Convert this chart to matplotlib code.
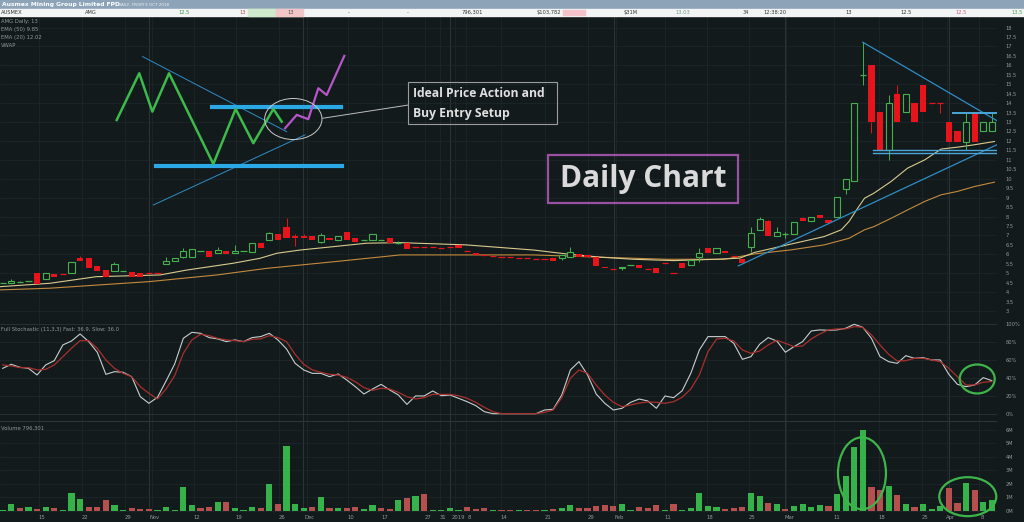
import numpy as np
import matplotlib
matplotlib.use('Agg')
import matplotlib.pyplot as plt
from matplotlib.patches import Rectangle, Ellipse

# ---------------- data ----------------
opens = [4.50, 4.47, 4.55, 4.58, 5.00, 4.68, 4.97, 4.95, 5.00, 5.79,
         5.79, 5.39, 5.18, 5.14, 5.14, 5.09, 5.00, 5.05, 5.05, 5.49,
         5.65, 5.88, 5.85, 6.18, 6.20, 6.06, 6.20, 6.06, 6.18, 6.15,
         6.59, 6.76, 7.06, 7.47, 6.97, 6.99, 6.97, 6.63, 6.88, 6.76,
         7.17, 6.85, 6.76, 6.76, 6.76, 6.85, 6.62, 6.62, 6.41, 6.41,
         6.41, 6.36, 6.41, 6.50, 6.20, 6.06, 5.97, 5.93, 5.88, 5.85,
         5.81, 5.80, 5.79, 5.78, 5.79, 5.79, 5.88, 6.02, 5.97, 5.85,
         5.35, 5.26, 5.26, 5.46, 5.46, 5.23, 5.26, 5.55, 5.03, 5.52,
         5.46, 5.88, 6.35, 6.06, 6.20, 5.90, 5.74, 6.41, 7.30, 7.79,
         6.98, 7.08, 7.08, 7.91, 7.79, 8.09, 7.82, 7.97, 9.45, 9.86,
         15.49, 16.03, 13.51, 11.50, 14.50, 13.51, 14.00, 14.98, 14.00, 14.00,
         12.98, 12.50, 11.97, 13.51, 12.50, 12.50]
highs = [4.50, 4.68, 4.60, 4.58, 5.00, 5.00, 4.97, 4.95, 5.62, 5.91,
         5.79, 5.39, 5.18, 5.61, 5.14, 5.09, 5.00, 5.05, 5.05, 5.85,
         5.79, 6.32, 6.27, 6.18, 6.20, 6.38, 6.20, 6.50, 6.18, 6.59,
         6.59, 7.20, 7.06, 7.91, 7.10, 7.10, 6.97, 7.12, 6.88, 6.97,
         7.17, 6.85, 6.76, 7.08, 6.76, 6.85, 6.70, 6.62, 6.41, 6.41,
         6.41, 6.36, 6.41, 6.50, 6.20, 6.06, 5.97, 5.93, 5.88, 5.85,
         5.81, 5.80, 5.79, 5.78, 5.79, 5.97, 6.41, 6.02, 5.97, 5.85,
         5.35, 5.26, 5.35, 5.46, 5.46, 5.23, 5.26, 5.55, 5.03, 5.52,
         5.72, 6.35, 6.35, 6.35, 6.20, 5.90, 5.74, 7.47, 8.00, 7.82,
         7.47, 7.20, 7.70, 8.00, 7.97, 8.09, 7.82, 9.06, 9.98, 14.00,
         17.24, 16.03, 13.51, 14.45, 14.98, 14.50, 14.00, 14.98, 14.00, 14.00,
         12.98, 12.50, 13.51, 13.51, 12.98, 13.51]
lows = [4.50, 4.47, 4.55, 4.58, 4.43, 4.68, 4.79, 4.94, 5.00, 5.67,
        5.26, 5.14, 4.79, 5.14, 5.14, 4.79, 4.79, 5.04, 5.04, 5.49,
        5.65, 5.79, 5.85, 6.18, 5.85, 6.06, 6.02, 6.06, 6.18, 6.15,
        6.36, 6.76, 6.76, 6.85, 6.44, 6.85, 6.76, 6.58, 6.76, 6.76,
        6.76, 6.67, 6.76, 6.76, 6.76, 6.62, 6.55, 6.27, 6.40, 6.40,
        6.40, 6.35, 6.40, 6.35, 6.19, 5.97, 5.96, 5.92, 5.87, 5.84,
        5.80, 5.79, 5.78, 5.77, 5.63, 5.70, 5.88, 5.88, 5.85, 5.41,
        5.26, 5.25, 5.17, 5.46, 5.26, 5.22, 5.00, 5.54, 5.02, 5.26,
        5.46, 5.60, 6.06, 6.06, 6.06, 5.89, 5.56, 6.15, 7.30, 6.95,
        6.98, 6.85, 7.08, 7.79, 7.79, 7.91, 7.68, 7.97, 9.20, 9.86,
        14.98, 12.40, 11.50, 11.00, 12.98, 13.51, 12.98, 13.51, 13.99, 13.50,
        11.97, 11.97, 11.50, 11.97, 12.50, 12.50]
closes = [4.50, 4.61, 4.55, 4.58, 4.43, 5.00, 4.79, 4.94, 5.62, 5.67,
          5.26, 5.14, 4.79, 5.49, 5.14, 4.79, 4.79, 5.04, 5.04, 5.67,
          5.79, 6.18, 6.27, 6.18, 5.85, 6.22, 6.02, 6.20, 6.18, 6.59,
          6.36, 7.12, 6.76, 6.85, 6.85, 6.85, 6.76, 7.03, 6.76, 6.97,
          6.76, 6.67, 6.76, 7.08, 6.76, 6.62, 6.62, 6.27, 6.40, 6.40,
          6.40, 6.35, 6.40, 6.35, 6.19, 5.97, 5.96, 5.92, 5.87, 5.84,
          5.80, 5.79, 5.78, 5.77, 5.63, 5.97, 6.15, 5.88, 5.85, 5.41,
          5.26, 5.25, 5.35, 5.46, 5.26, 5.22, 5.00, 5.54, 5.02, 5.26,
          5.72, 6.06, 6.06, 6.35, 6.06, 5.89, 5.56, 7.15, 7.86, 6.98,
          7.17, 7.08, 7.70, 7.79, 7.97, 7.91, 7.68, 9.06, 9.98, 14.00,
          15.50, 12.98, 11.50, 14.00, 12.98, 14.50, 12.98, 13.51, 13.99, 13.99,
          11.97, 11.97, 12.98, 11.97, 12.98, 12.98]

volume_m = [0.04, 0.50, 0.20, 0.24, 0.12, 0.30, 0.20, 0.08, 1.29, 0.85,
            0.27, 0.24, 0.82, 0.40, 0.03, 0.20, 0.12, 0.10, 0.03, 0.30,
            0.05, 1.76, 0.40, 0.20, 0.24, 0.67, 0.63, 0.22, 0.03, 0.30,
            0.22, 1.99, 0.47, 4.83, 0.47, 0.20, 0.27, 1.04, 0.20, 0.20,
            0.22, 0.27, 0.10, 0.42, 0.20, 0.10, 0.79, 0.94, 1.11, 1.22,
            0.03, 0.03, 0.20, 0.03, 0.30, 0.12, 0.20, 0.04, 0.06, 0.06,
            0.03, 0.05, 0.05, 0.03, 0.13, 0.20, 0.42, 0.20, 0.20, 0.33,
            0.40, 0.31, 0.47, 0.03, 0.26, 0.22, 0.42, 0.03, 0.48, 0.03,
            0.20, 1.32, 0.35, 0.25, 0.12, 0.17, 0.25, 1.34, 1.09, 0.55,
            0.47, 0.12, 0.37, 0.50, 0.30, 0.42, 0.37, 1.24, 2.58, 4.76,
            6.00, 1.74, 1.54, 1.84, 1.17, 0.50, 0.25, 0.50, 0.10, 0.35,
            1.72, 0.55, 2.04, 1.54, 0.62, 0.80]
volume_dir = ("ggrgrgrggg" "rrrggrrrgg" "gggrrgrggg" "rgrgggrgrg" "rrggrrgrgr"
              "ggggrrrgrr" "grrgrggrrr" "rrggrrrgrg" "ggggrrrggr" "grggggrggg"
              "grrgrgrggg" "rrgrgg")

stoch_fast = [50.7, 55.2, 51.9, 50.7, 43.3, 54.5, 59.3, 76.9, 81.3, 89.2,
              80.6, 68.7, 44.0, 47.0, 46.3, 41.4, 19.0, 11.6, 18.3, 36.6,
              55.6, 84.3, 91.0, 89.9, 85.1, 83.6, 80.6, 82.5, 80.6, 85.1,
              86.2, 89.9, 82.5, 72.4, 56.3, 48.9, 45.1, 45.1, 41.4, 44.4,
              37.7, 30.2, 22.0, 27.6, 32.8, 26.5, 20.9, 10.4, 19.8, 19.8,
              25.4, 20.1, 20.9, 17.2, 13.4, 9.0, 2.2, 0, 0, 0,
              0, 0, 0, 4.1, 4.9, 20.9, 48.9, 58.2, 43.3, 22.0,
              11.6, 4.1, 6.0, 12.7, 16.4, 14.2, 6.0, 19.8, 17.9, 25.7,
              45.1, 71.3, 86.2, 86.2, 86.2, 78.7, 60.8, 63.8, 77.6, 85.1,
              81.3, 68.7, 75.0, 80.6, 92.5, 93.7, 93.3, 93.7, 95.5, 100,
              96.6, 84.3, 63.8, 58.2, 56.3, 64.9, 61.9, 62.7, 60.1, 60.1,
              44.0, 32.8, 30.2, 32.1, 40.3, 36.9]
stoch_slow = [54.5, 53.4, 51.5, 51.5, 48.9, 49.6, 54.5, 63.8, 73.1, 81.7,
              81.7, 73.1, 60.1, 50.7, 45.1, 41.4, 30.2, 22.8, 16.4, 27.6,
              42.5, 67.5, 82.5, 88.8, 87.3, 84.3, 82.5, 81.7, 80.6, 83.2,
              83.6, 87.3, 85.1, 80.6, 66.4, 55.2, 48.9, 46.3, 44.0, 43.3,
              40.7, 35.8, 29.1, 26.1, 28.4, 27.6, 23.9, 19.0, 16.4, 17.9,
              21.6, 21.6, 21.6, 20.1, 17.2, 12.7, 7.1, 2.2, 0, 0,
              0, 0, 0, 1.5, 4.1, 17.9, 39.6, 48.9, 45.1, 32.1,
              20.9, 12.7, 7.8, 9.7, 11.9, 13.1, 12.7, 11.6, 13.4, 18.3,
              27.6, 43.3, 69.4, 83.6, 84.3, 81.3, 71.3, 67.5, 70.1, 76.9,
              82.1, 78.7, 75.0, 75.7, 83.6, 89.2, 93.7, 94.8, 94.8, 97.4,
              96.6, 88.1, 76.9, 66.4, 59.0, 59.3, 61.9, 61.9, 60.1, 58.2,
              50.7, 41.4, 32.1, 32.1, 35.1, 36.0]

ema20_x = [-0.3, 5.5, 10.9, 18.3, 21.4, 26.8, 29.9, 31.9, 34.6, 38.5, 42.3, 46.2,
           53.9, 61.7, 65.6, 69.5, 73.3, 78.0, 83.0, 85.7, 87.4, 91.7, 95.5, 97.5,
           98.4, 99.4, 100.2, 101.3, 103.3, 105.2, 107.2, 109.1, 111.0, 113.0, 115.3]
ema20_y = [4.29, 4.47, 4.82, 4.91, 5.17, 5.53, 5.79, 6.06, 6.23, 6.41, 6.59, 6.62,
           6.50, 6.23, 6.02, 5.85, 5.74, 5.67, 5.74, 5.80, 6.10, 6.55, 6.94, 7.30,
           7.74, 8.44, 8.97, 9.24, 9.86, 10.56, 11.00, 11.57, 11.67, 11.80, 11.97]
ema50_x = [-0.3, 5.5, 17.1, 19.1, 24.9, 30.7, 38.5, 44.3, 46.2, 61.7, 69.5, 77.2,
           83.9, 87.4, 91.7, 95.5, 98.4, 100.2, 101.3, 103.3, 105.2, 107.2, 109.1,
           111.0, 113.0, 115.3]
ema50_y = [4.12, 4.21, 4.56, 4.65, 4.91, 5.26, 5.61, 5.88, 5.97, 5.97, 5.85, 5.74,
           5.74, 6.02, 6.24, 6.50, 6.85, 7.30, 7.47, 7.91, 8.35, 8.80, 9.15,
           9.33, 9.59, 9.82]

tick_labels = ['15', '22', '29', 'Nov', '12', '19', '26', 'Dec', '10', '17', '27', '31',
               '2019', '8', '14', '21', '29', 'Feb', '11', '18', '25', 'Mar', '11', '18',
               '25', 'Apr', '8']
tick_pos = [4.57, 9.57, 14.57, 17.71, 22.59, 27.48, 32.48, 35.73, 40.5, 44.45, 49.45, 51.2,
            52.94, 54.22, 58.29, 63.41, 68.41, 71.66, 77.36, 82.24, 87.13, 91.43, 97.01,
            102.24, 107.24, 110.15, 113.87]
month_lines = [17.01, 34.92, 52.01, 71.08, 90.97, 110.03]

# hand drawn "ideal setup" sketch (bar index, price)
sketch_x = [13.26, 15.88, 17.40, 19.34, 24.49, 27.09, 29.14, 31.47, 32.44]
sketch_y = [13.11, 15.58, 13.55, 15.58, 10.78, 13.69, 11.88, 13.69, 13.02]
breakout_x = [32.83, 34.19, 35.53, 36.70, 37.67, 39.72]
breakout_y = [12.67, 13.38, 13.15, 14.79, 14.43, 16.50]

BG = '#131a1c'
GRID = '#1e282a'
MONTH = '#2b3638'
TXT = '#8e989a'
GREEN = '#46b04e'
RED = '#e8141c'
VGREEN = '#35b24a'
VRED = '#b5504e'
TLINE = '#2f8dc6'

W, H = 1024.0, 522.0
def fx(px):
    return px / W
def fy(py):
    return 1 - py / H

fig = plt.figure(figsize=(10.24, 5.22), dpi=100, facecolor=BG)
R = 997
ax_p = fig.add_axes([0, fy(319), R / W, (319 - 16) / H])
ax_s = fig.add_axes([0, fy(421), R / W, (421 - 319) / H], sharex=ax_p)
ax_v = fig.add_axes([0, fy(512), R / W, (512 - 421) / H], sharex=ax_p)

for ax in (ax_p, ax_s, ax_v):
    ax.set_facecolor(BG)
    for s in ax.spines.values():
        s.set_visible(False)
    ax.yaxis.tick_right()
    ax.tick_params(left=False, bottom=False, labelbottom=False, right=False,
                   labelright=True, labelsize=3.7, labelcolor=TXT, pad=2.5)
    for m in month_lines:
        ax.axvline(m, color=MONTH, lw=0.7, zorder=0)
    for t in tick_pos:
        ax.axvline(t - 0.35, color=GRID, lw=0.5, zorder=0)

ax_p.set_xlim(-0.31, 115.6)
ax_p.set_ylim(2.58, 18.61)
ax_s.set_ylim(-8.2, 105.9)
ax_v.set_ylim(-0.1, 6.67)

ax_p.set_yticks(np.arange(3, 18.01, 0.5))
ax_p.set_yticklabels(['%g' % v for v in np.arange(3, 18.01, 0.5)])
for v in range(3, 19):
    ax_p.axhline(v, color=GRID, lw=0.5, zorder=0)
ax_s.set_yticks(range(0, 101, 20))
ax_s.set_yticklabels(['%d%%' % v for v in range(0, 101, 20)])
for v in range(0, 101, 20):
    ax_s.axhline(v, color=MONTH if v in (0, 100) else GRID, lw=0.6, zorder=0)
ax_v.set_yticks(range(0, 7))
ax_v.set_yticklabels(['%dM' % v for v in range(0, 7)])
for v in range(0, 7):
    ax_v.axhline(v, color=GRID, lw=0.5, zorder=0)
ax_p.axhline(2.58, color=MONTH, lw=0.8)
ax_v.axhline(6.67, color=MONTH, lw=0.8)

# ---- candles ----
o, h, l, c = (np.array(a) for a in (opens, highs, lows, closes))
x = np.arange(len(c))
up = c >= o
top = np.maximum(o, c)
bot = np.minimum(o, c)
ccol = np.where(up, GREEN, RED)
ax_p.vlines(x, top, h, colors=ccol, lw=0.7, zorder=3)
ax_p.vlines(x, l, bot, colors=ccol, lw=0.7, zorder=3)
flat = (top - bot) < 0.03
m = ~flat & up
ax_p.bar(x[m], (top - bot)[m], bottom=bot[m], width=0.72, facecolor=BG,
         edgecolor=GREEN, lw=0.8, zorder=4)
m = ~flat & ~up
ax_p.bar(x[m], (top - bot)[m], bottom=bot[m], width=0.72, color=RED, lw=0, zorder=4)
ax_p.hlines(c[flat], x[flat] - 0.36, x[flat] + 0.36, colors=ccol[flat], lw=0.9, zorder=4)

ax_p.plot(ema50_x, ema50_y, color='#c48a3e', lw=0.8, zorder=2)
ax_p.plot(ema20_x, ema20_y, color='#d8ca8e', lw=0.8, zorder=2)

# ---- trend lines on the live chart ----
ax_p.plot([100.0, 115.97], [17.22, 12.97], color=TLINE, lw=0.9, zorder=5)
ax_p.plot([85.53, 115.97], [5.39, 11.88], color=TLINE, lw=0.9, zorder=5)
ax_p.plot([110.53, 115.6], [13.50, 13.50], color='#4aa6d8', lw=1.4, zorder=5)
ax_p.plot([101.23, 115.6], [11.52, 11.52], color='#4aa6d8', lw=1.0, zorder=5)
ax_p.plot([101.23, 115.6], [11.38, 11.38], color='#4aa6d8', lw=1.0, zorder=5)

# ---- sketch of ideal price action ----
ax_p.plot([16.28, 33.02], [16.46, 12.49], color=TLINE, lw=0.7, zorder=5)
ax_p.plot([17.51, 35.15], [8.61, 12.32], color=TLINE, lw=0.7, zorder=5)
ax_p.plot([24.30, 39.30], [13.81, 13.81], color='#2aa9e6', lw=3.0, zorder=5)
ax_p.plot([17.79, 39.42], [10.69, 10.69], color='#2aa9e6', lw=3.0, zorder=5)
ax_p.plot(sketch_x, sketch_y, color='#3dba4c', lw=1.8, zorder=6)
ax_p.plot(breakout_x, breakout_y, color='#b457c8', lw=1.6, zorder=6)
ax_p.add_patch(Ellipse((33.79, 13.16), 6.66, 2.17, fill=False, edgecolor='#c9c9c9',
                       lw=0.7, zorder=7))
ax_p.plot([37.21, 47.16], [13.20, 13.90], color='#bdbdbd', lw=0.7, zorder=7)
ax_p.add_patch(Rectangle((47.16, 12.88), 17.33, 2.23, fill=False, edgecolor='#9c9c9c',
                         lw=0.8, zorder=7))
ax_p.text(47.75, 14.52, 'Ideal Price Action and', family='Open Sans', weight='bold',
          fontsize=8.7, color='#e0e0e0', va='center', ha='left', zorder=8)
ax_p.text(47.75, 13.46, 'Buy Entry Setup', family='Open Sans', weight='bold',
          fontsize=8.7, color='#e0e0e0', va='center', ha='left', zorder=8)

ax_p.add_patch(Rectangle((63.4, 8.72), 22.1, 2.54, fill=False, edgecolor='#9b51a3',
                         lw=1.6, zorder=7))
ax_p.text(74.45, 9.98, 'Daily Chart', family='Open Sans', weight='bold', fontsize=21.5,
          color='#dadada', ha='center', va='center', zorder=8)

# ---- stochastic ----
ax_s.plot(x, stoch_fast, color='#c6ced0', lw=0.8, zorder=3)
ax_s.plot(x, stoch_slow, color='#a8302c', lw=0.9, zorder=3)
ax_s.add_patch(Ellipse((113.3, 38.8), 4.07, 32.4, fill=False, edgecolor='#3db54a',
                       lw=1.6, zorder=6))

# ---- volume ----
vcol = [VGREEN if d == 'g' else VRED for d in volume_dir]
ax_v.bar(x, volume_m, width=0.72, color=vcol, lw=0, zorder=3)
ax_v.add_patch(Ellipse((99.9, 2.78), 5.58, 5.35, fill=False, edgecolor='#3db54a',
                       lw=1.6, zorder=6, clip_on=False))
ax_v.add_patch(Ellipse((112.2, 1.04), 6.63, 2.9, fill=False, edgecolor='#3db54a',
                       lw=1.6, zorder=6, clip_on=False))

for t, lab in zip(tick_pos, tick_labels):
    ax_v.text(t, -0.055, lab, transform=ax_v.get_xaxis_transform(), ha='center',
              va='center', fontsize=3.8, color=TXT)

# ---- panel captions ----
for i, s in enumerate(['AMG Daily: 13', 'EMA (50) 9.85', 'EMA (20) 12.02', 'VWAP']):
    fig.text(fx(1), fy(22 + 7.7 * i), s, fontsize=3.8, color=TXT, va='center')
fig.text(fx(1), fy(329), 'Full Stochastic (11,3,3) Fast: 36.9, Slow: 36.0', fontsize=3.8,
         color=TXT, va='center')
fig.text(fx(1), fy(428), 'Volume 796,301', fontsize=3.8, color=TXT, va='center')

# ---- header bars ----
fig.patches.append(Rectangle((0, fy(8.7)), 1, 8.7 / H, transform=fig.transFigure,
                             color='#8ca3b8', zorder=0))
fig.patches.append(Rectangle((0, fy(16)), 1, 7.3 / H, transform=fig.transFigure,
                             color='#f3f4f4', zorder=0))
fig.patches.append(Rectangle((fx(248), fy(16)), 28 / W, 7.3 / H, transform=fig.transFigure,
                             color='#cfe9cc', zorder=1))
fig.patches.append(Rectangle((fx(276), fy(16)), 27 / W, 7.3 / H, transform=fig.transFigure,
                             color='#f2c6c6', zorder=1))
fig.patches.append(Rectangle((fx(563), fy(15)), 22 / W, 5.5 / H, transform=fig.transFigure,
                             color='#f4c2c8', zorder=1))
fig.text(fx(2), fy(4.4), 'Ausmex Mining Group Limited FPD', fontsize=4.3, weight='bold',
         color='white', va='center')
fig.text(fx(118), fy(4.6), 'DAILY, FROM 9 OCT 2018', fontsize=3.0, color='#eef2f6',
         va='center')

header = [(1, 'AUSMEX', 'left', '#333333'), (85, 'AMG', 'left', '#333333'),
          (190, '12.5', 'right', '#3f9a44'), (246, '13', 'right', '#c0504f'),
          (294, '13', 'right', '#555555'), (349, '-', 'center', '#555555'),
          (408, '-', 'center', '#555555'), (483, '796,301', 'right', '#333333'),
          (561, '$103,782', 'right', '#333333'), (638, '$31M', 'right', '#333333'),
          (690, '13.03', 'right', '#6f9c8c'), (749, '34', 'right', '#333333'),
          (787, '12:38:20', 'right', '#333333'), (852, '13', 'right', '#333333'),
          (912, '12.5', 'right', '#333333'), (967, '12.5', 'right', '#d0607a'),
          (1023, '13.5', 'right', '#4fa055')]
for px, s, ha, col in header:
    fig.text(fx(px), fy(12.4), s, fontsize=3.7, color=col, ha=ha, va='center')

fig.savefig('out.png', dpi=100, facecolor=BG)
